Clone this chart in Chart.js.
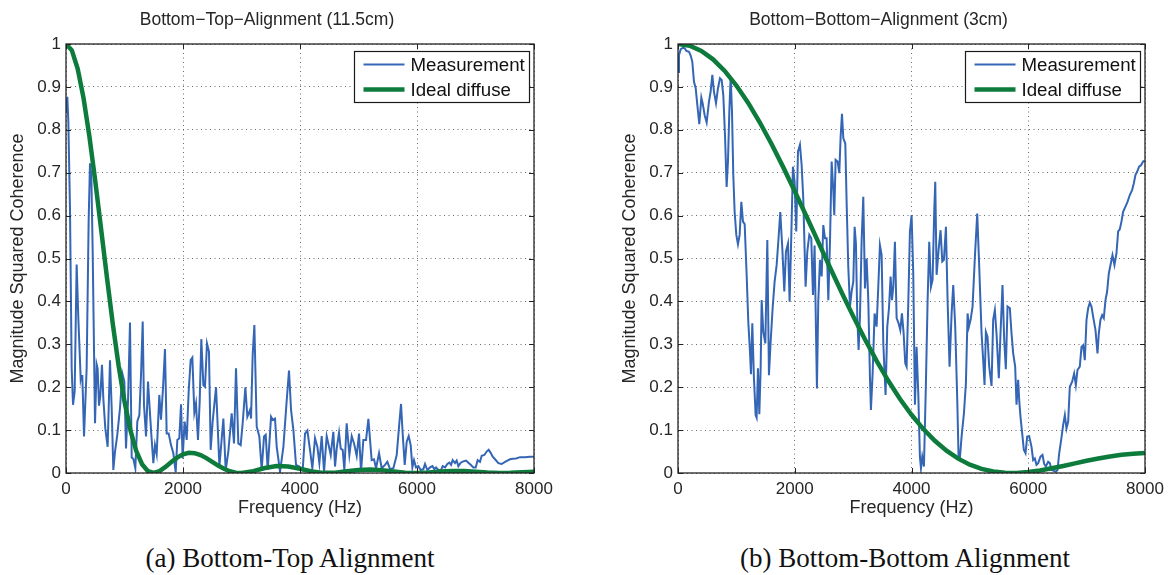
<!DOCTYPE html>
<html><head><meta charset="utf-8">
<script src="https://cdn.jsdelivr.net/npm/chart.js@4.4.1/dist/chart.umd.min.js"></script>
<style>
html,body{margin:0;padding:0;background:#fff;}
body{width:1175px;height:575px;position:relative;overflow:hidden;}
canvas{position:absolute;top:0;}
.cap{position:absolute;font-family:"Liberation Serif","Times New Roman",serif;font-size:27px;color:#111;white-space:nowrap;transform:translateX(-50%);top:543px;line-height:31px;}
</style></head><body>
<canvas id="c1" width="560" height="530" style="left:0"></canvas>
<canvas id="c2" width="559" height="530" style="left:612px"></canvas>
<div class="cap" style="left:290px">(a) Bottom-Top Alignment</div>
<div class="cap" style="left:905px">(b) Bottom-Bottom Alignment</div>
<script>
// ---------- DATA ----------
const xTickValues = [0, 2000, 4000, 6000, 8000];
const yTickValues = [0, 0.1, 0.2, 0.3, 0.4, 0.5, 0.6, 0.7, 0.8, 0.9, 1];
const seriesLabels = ['Measurement', 'Ideal diffuse'];
const chartTitles = ['Bottom\u2212Top\u2212Alignment (11.5cm)', 'Bottom\u2212Bottom\u2212Alignment (3cm)'];

// Bottom-Top measurement: [frequency Hz, coherence]
const leftMeasurement = [
[0,0.84],[23,0.877],[40,0.82],[68,0.617],[97,0.244],[120,0.159],[148,0.19],[182,0.486],[211,0.36],[251,0.22],
[262,0.228],[279,0.227],[308,0.085],[353,0.244],[387,0.586],[410,0.722],[433,0.695],[456,0.516],[496,0.116],[524,0.253],
[541,0.243],[564,0.157],[587,0.18],[615,0.252],[638,0.174],[672,0.104],[712,0.061],[752,0.263],[781,0.151],[809,0.007],
[838,0.05],[877,0.089],[923,0.151],[963,0.232],[997,0.213],[1026,0.057],[1060,0.166],[1094,0.351],[1123,0.036],[1151,0.033],
[1185,0.011],[1219,0.12],[1254,0.135],[1282,0.228],[1311,0.353],[1333,0.159],[1368,0.085],[1402,0.213],[1430,0.151],[1459,0.089],
[1493,0.023],[1521,0.065],[1550,0.044],[1595,0.182],[1624,0.124],[1658,0.197],[1692,0.289],[1721,0.092],[1755,0.092],[1795,0.065],
[1835,0.046],[1875,0.002],[1903,0.077],[1937,0.081],[1966,0.16],[1994,0.034],[2028,0.12],[2063,0.077],[2097,0.19],[2131,0.263],
[2160,0.269],[2194,0.141],[2222,0.162],[2256,0.077],[2285,0.166],[2313,0.312],[2348,0.205],[2376,0.201],[2410,0.302],[2444,0.283],
[2473,0.054],[2507,0.12],[2565,0.2],[2622,0.015],[2690,0.127],[2730,0.007],[2775,0.05],[2832,0.139],[2872,0.069],[2906,0.244],
[2946,0.069],[2986,0.065],[3020,0.116],[3066,0.2],[3100,0.131],[3146,0.147],[3163,0.127],[3191,0.275],[3220,0.345],[3260,0.108],
[3305,0.085],[3345,0.007],[3385,0.085],[3414,0.089],[3448,0.007],[3505,0.131],[3533,0.124],[3573,0.127],[3602,0.061],[3659,0.003],
[3716,0.061],[3773,0.17],[3812,0.239],[3847,0.147],[3887,0.1],[3932,0.019],[3989,0.015],[4046,0.007],[4086,0.092],[4126,0.099],
[4171,0.054],[4211,0.011],[4257,0.081],[4297,0.061],[4331,0.023],[4371,0.086],[4411,0.003],[4456,0.086],[4496,0.061],[4525,0.042],
[4570,0.096],[4599,0.015],[4627,0.057],[4667,0.094],[4696,0.057],[4730,0.054],[4758,0.007],[4798,0.116],[4844,0.042],[4884,0.086],
[4924,0.069],[4969,0.04],[5009,0.092],[5043,0.003],[5083,0.077],[5129,0.077],[5169,0.126],[5225,0.03],[5265,0.032],[5300,0.011],
[5351,0.046],[5396,0.011],[5453,0.019],[5493,0.026],[5539,0.009],[5596,0.011],[5653,0.042],[5693,0.108],[5727,0.161],[5755,0.092],
[5790,0.019],[5824,0.073],[5858,0.086],[5892,0.065],[5921,0.013],[5949,0.03],[5983,0.013],[6023,0.016],[6063,0.007],[6109,0.009],
[6137,0.021],[6177,0.007],[6223,0.013],[6263,0.016],[6297,0.009],[6325,0.013],[6365,0.007],[6405,0.005],[6439,0.016],[6479,0.013],
[6519,0.021],[6553,0.024],[6582,0.019],[6610,0.03],[6650,0.023],[6678,0.029],[6707,0.016],[6747,0.024],[6792,0.027],[6838,0.029],
[6878,0.024],[6918,0.019],[6963,0.013],[7003,0.013],[7037,0.03],[7077,0.026],[7106,0.04],[7151,0.042],[7191,0.05],[7225,0.054],
[7260,0.047],[7294,0.038],[7334,0.032],[7391,0.023],[7448,0.021],[7505,0.026],[7545,0.029],[7590,0.032],[7636,0.033],[7693,0.034],
[7761,0.037],[7847,0.037],[7932,0.038],[8000,0.038]
];

// Bottom-Top ideal diffuse
const leftIdealFreq = [0,100,200,300,400,500,600,700,800,900,1000,1100,1200,1300,1400,1500,1600,1700,1800,1900,2000,
2100,2200,2300,2400,2500,2600,2700,2800,2900,3000,3200,3400,3600,3800,4000,4200,4400,4600,4800,5000,5200,5400,5600,5800,
6000,6200,6400,6600,6800,7000,7200,7400,7600,7800,8000];
const leftIdealValue = [1.0000,0.9853,0.9422,0.8737,0.7846,0.6807,0.5687,0.4555,0.3473,0.2497,0.1665,0.1002,0.0518,0.0205,0.0042,0.0000,0.0046,0.0142,0.0255,0.0359,0.0434,
0.0470,0.0463,0.0418,0.0347,0.0260,0.0173,0.0097,0.0040,0.0008,0.0000,0.0043,0.0116,0.0162,0.0152,0.0099,0.0038,0.0003,0.0007,0.0040,0.0072,0.0083,0.0067,0.0035,0.0008,
0.0000,0.0013,0.0035,0.0049,0.0047,0.0031,0.0011,0.0001,0.0004,0.0016,0.0029];

// Bottom-Bottom measurement: [frequency Hz, coherence]
const rightMeasurement = [
[0,0.935],[17,0.974],[46,0.988],[86,0.991],[114,0.99],[143,0.984],[188,0.982],[217,0.973],[245,0.959],[274,0.912],
[303,0.897],[331,0.858],[365,0.813],[400,0.875],[422,0.862],[457,0.834],[491,0.817],[531,0.866],[559,0.889],[588,0.928],
[616,0.889],[651,0.862],[685,0.897],[719,0.92],[748,0.916],[776,0.881],[805,0.788],[833,0.667],[856,0.726],[879,0.842],
[902,0.924],[925,0.842],[947,0.695],[970,0.609],[999,0.555],[1027,0.533],[1056,0.555],[1085,0.632],[1113,0.586],[1142,0.58],
[1176,0.462],[1204,0.353],[1233,0.283],[1250,0.23],[1273,0.349],[1301,0.221],[1330,0.135],[1347,0.129],[1370,0.244],[1393,0.137],
[1416,0.244],[1433,0.403],[1461,0.329],[1496,0.302],[1530,0.543],[1558,0.228],[1587,0.306],[1621,0.384],[1655,0.446],[1690,0.485],
[1718,0.539],[1752,0.608],[1787,0.524],[1821,0.423],[1849,0.516],[1884,0.535],[1912,0.399],[1941,0.555],[1969,0.714],[1998,0.679],
[2026,0.563],[2055,0.749],[2089,0.765],[2118,0.718],[2146,0.64],[2186,0.434],[2215,0.516],[2249,0.555],[2283,0.547],[2312,0.415],
[2340,0.53],[2380,0.197],[2403,0.399],[2432,0.497],[2461,0.458],[2489,0.578],[2518,0.547],[2546,0.547],[2575,0.403],[2603,0.535],
[2632,0.726],[2660,0.66],[2677,0.601],[2700,0.73],[2735,0.726],[2763,0.699],[2786,0.784],[2809,0.837],[2832,0.78],[2866,0.768],
[2889,0.629],[2917,0.481],[2946,0.388],[2974,0.423],[3003,0.446],[3026,0.574],[3048,0.535],[3071,0.364],[3094,0.287],[3117,0.364],
[3146,0.543],[3174,0.644],[3203,0.43],[3231,0.5],[3260,0.403],[3288,0.225],[3305,0.147],[3334,0.232],[3368,0.372],[3402,0.341],
[3431,0.434],[3459,0.531],[3488,0.508],[3517,0.302],[3556,0.182],[3585,0.341],[3614,0.384],[3642,0.458],[3665,0.403],[3688,0.434],
[3716,0.539],[3745,0.361],[3779,0.349],[3808,0.333],[3836,0.372],[3865,0.326],[3893,0.256],[3916,0.248],[3945,0.396],[3973,0.563],
[4002,0.601],[4030,0.465],[4059,0.159],[4087,0.294],[4116,0.186],[4144,0.038],[4162,0.011],[4184,0.038],[4213,0.015],[4247,0.209],
[4276,0.403],[4304,0.539],[4333,0.434],[4361,0.45],[4390,0.613],[4407,0.679],[4430,0.462],[4464,0.52],[4498,0.566],[4527,0.493],
[4555,0.497],[4590,0.574],[4618,0.403],[4652,0.248],[4687,0.372],[4715,0.438],[4749,0.341],[4784,0.17],[4806,0.038],[4829,0.034],
[4858,0.085],[4898,0.139],[4932,0.209],[4961,0.372],[4983,0.341],[5012,0.357],[5046,0.388],[5086,0.504],[5126,0.605],[5160,0.481],
[5200,0.326],[5228,0.263],[5251,0.205],[5274,0.329],[5302,0.318],[5331,0.248],[5371,0.203],[5399,0.357],[5428,0.38],[5456,0.326],
[5496,0.221],[5525,0.326],[5559,0.438],[5588,0.31],[5616,0.242],[5645,0.388],[5685,0.384],[5713,0.326],[5742,0.279],[5776,0.248],
[5799,0.159],[5827,0.217],[5845,0.17],[5867,0.131],[5902,0.085],[5924,0.054],[5953,0.046],[5982,0.085],[6016,0.086],[6056,0.061],
[6084,0.03],[6113,0.034],[6141,0.019],[6170,0.023],[6210,0.038],[6244,0.042],[6273,0.021],[6301,0.015],[6341,0.026],[6370,0.023],
[6398,0.007],[6438,0.005],[6472,0.003],[6501,0.007],[6530,0.046],[6564,0.077],[6598,0.112],[6627,0.135],[6655,0.104],[6684,0.12],
[6712,0.201],[6752,0.213],[6786,0.232],[6815,0.205],[6843,0.24],[6883,0.248],[6912,0.294],[6940,0.298],[6969,0.263],[6998,0.357],
[7026,0.384],[7055,0.397],[7083,0.388],[7112,0.364],[7152,0.333],[7186,0.279],[7209,0.326],[7237,0.357],[7266,0.368],[7294,0.361],
[7323,0.403],[7351,0.423],[7380,0.465],[7409,0.485],[7443,0.508],[7477,0.485],[7511,0.512],[7540,0.563],[7568,0.568],[7597,0.586],
[7625,0.609],[7665,0.621],[7700,0.632],[7740,0.648],[7780,0.66],[7808,0.675],[7837,0.695],[7865,0.702],[7899,0.714],[7934,0.718],
[7968,0.726],[7996,0.728]
];

// Bottom-Bottom ideal diffuse
const rightIdealFreq = [0,200,400,600,800,1000,1200,1400,1600,1800,2000,2200,2400,2600,2800,3000,3200,3400,3600,3800,4000,
4200,4400,4600,4800,5000,5200,5400,5600,5800,6000,6200,6400,6600,6800,7000,7200,7400,7600,7800,8000];
const rightIdealValue = [1.0000,0.9960,0.9840,0.9643,0.9372,0.9033,0.8632,0.8176,0.7675,0.7136,0.6569,0.5985,0.5392,0.4801,0.4220,0.3657,0.3122,0.2619,0.2154,0.1732,0.1357,
0.1029,0.0750,0.0519,0.0335,0.0195,0.0096,0.0034,0.0004,0.0002,0.0022,0.0059,0.0109,0.0165,0.0225,0.0284,0.0338,0.0386,0.0424,0.0451,0.0467];

// ---------- STYLE / CHART ----------
const FONT = '"Liberation Sans", Arial, Helvetica, sans-serif';
const TEXT = '#262626';
const BLUE = '#3466b5';
const GREEN = '#0c7b3c';

const framePlugin = {
  id: 'frameLegend',
  afterDatasetsDraw(chart) {
    const {ctx, chartArea: a, scales} = chart;
    ctx.save();
    ctx.strokeStyle = '#222';
    ctx.lineWidth = 1.3;
    ctx.strokeRect(a.left, a.top, a.right - a.left, a.bottom - a.top);
    const L = 5;
    ctx.beginPath();
    scales.x.ticks.forEach(t => {
      const px = Math.round(scales.x.getPixelForValue(t.value)) + 0.5;
      ctx.moveTo(px, a.bottom); ctx.lineTo(px, a.bottom - L);
      ctx.moveTo(px, a.top); ctx.lineTo(px, a.top + L);
    });
    scales.y.ticks.forEach(t => {
      const py = Math.round(scales.y.getPixelForValue(t.value)) + 0.5;
      ctx.moveTo(a.left, py); ctx.lineTo(a.left + L, py);
      ctx.moveTo(a.right, py); ctx.lineTo(a.right - L, py);
    });
    ctx.lineWidth = 1;
    ctx.stroke();
    // legend box
    const boxW = 175, boxH = 51;
    const bx = Math.round(a.right - 5 - boxW) + 0.5, by = Math.round(a.top + 7) + 0.5;
    ctx.fillStyle = '#fff';
    ctx.fillRect(bx, by, boxW, boxH);
    ctx.strokeStyle = '#1a1a1a';
    ctx.lineWidth = 1.2;
    ctx.strokeRect(bx, by, boxW, boxH);
    chart.data.datasets.forEach((ds, i) => {
      const yy = by + 13 + i * 25;
      ctx.strokeStyle = ds.borderColor;
      ctx.lineWidth = ds.borderWidth;
      ctx.beginPath();
      ctx.moveTo(bx + 9, yy); ctx.lineTo(bx + 50, yy);
      ctx.stroke();
      ctx.fillStyle = '#111';
      ctx.font = '18.7px ' + FONT;
      ctx.textBaseline = 'middle';
      ctx.textAlign = 'left';
      ctx.fillText(ds.label, bx + 56, yy + 1);
    });
    ctx.restore();
  }
};

function makeChart(id, title, meas, idealF, idealV) {
  return new Chart(document.getElementById(id), {
    type: 'line',
    data: {
      datasets: [
        { label: seriesLabels[0], data: meas.map(p => ({x: p[0], y: p[1]})),
          borderColor: BLUE, borderWidth: 2, pointRadius: 0, tension: 0, order: 1, fill: false },
        { label: seriesLabels[1], data: idealF.map((f, i) => ({x: f, y: idealV[i]})),
          borderColor: GREEN, borderWidth: 4.5, pointRadius: 0, tension: 0, order: 0, fill: false }
      ]
    },
    options: {
      responsive: false,
      animation: false,
      events: [],
      layout: { padding: { left: 0, right: 26, top: 0, bottom: 0 } },
      plugins: {
        legend: { display: false },
        tooltip: { enabled: false },
        title: { display: true, text: title, color: TEXT,
                 font: { family: FONT, size: 17.5, weight: 'normal' }, padding: { top: 10, bottom: 13 } }
      },
      scales: {
        x: {
          type: 'linear', min: 0, max: 8000,
          afterBuildTicks: s => { s.ticks = xTickValues.map(v => ({value: v})); },
          afterFit: s => { s.height = 57; },
          ticks: { color: TEXT, font: { family: FONT, size: 17 }, padding: 6, maxRotation: 0, autoSkip: false,
                   callback: v => String(v) },
          grid: { color: 'rgba(60,60,60,0.75)', lineWidth: 1, drawTicks: false },
          border: { display: false, dash: [1, 3.5] },
          title: { display: true, text: 'Frequency (Hz)', color: TEXT,
                   font: { family: FONT, size: 18 }, padding: { top: 0, bottom: 11 } }
        },
        y: {
          type: 'linear', min: 0, max: 1,
          afterBuildTicks: s => { s.ticks = yTickValues.map(v => ({value: v})); },
          afterFit: s => { s.width = 66; },
          ticks: { color: TEXT, font: { family: FONT, size: 17 }, padding: 5, autoSkip: false,
                   callback: v => String(v) },
          grid: { color: 'rgba(60,60,60,0.75)', lineWidth: 1, drawTicks: false },
          border: { display: false, dash: [1, 3.5] },
          title: { display: true, text: 'Magnitude Squared Coherence', color: TEXT,
                   font: { family: FONT, size: 18 }, padding: { top: 7, bottom: 0 } }
        }
      }
    },
    plugins: [framePlugin]
  });
}

makeChart('c1', chartTitles[0], leftMeasurement, leftIdealFreq, leftIdealValue);
makeChart('c2', chartTitles[1], rightMeasurement, rightIdealFreq, rightIdealValue);
</script>
</body></html>
